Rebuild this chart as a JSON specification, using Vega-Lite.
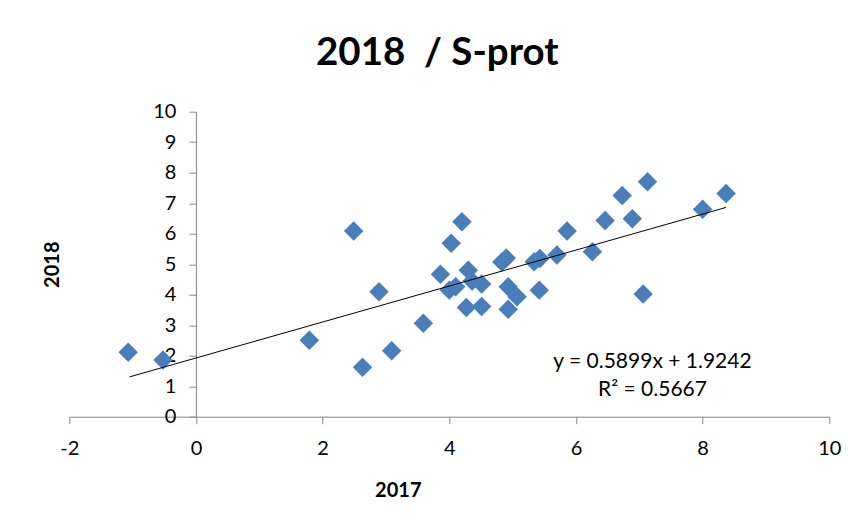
{
  "$schema": "https://vega.github.io/schema/vega-lite/v6.json",
  "autosize": "none",
  "width": 760,
  "height": 305,
  "padding": {"left": 69.3, "top": 111.7, "right": 25.7, "bottom": 98.3},
  "background": "white",
  "title": {
    "text": "2018\u00a0\u00a0/ S-prot",
    "font": "Lato",
    "fontSize": 38.5,
    "fontWeight": "bold",
    "color": "#000000",
    "anchor": "middle",
    "baseline": "alphabetic",
    "dx": -12,
    "offset": -2
  },
  "config": {
    "view": {"stroke": null},
    "axis": {
      "grid": false,
      "domainColor": "#868686",
      "tickColor": "#868686",
      "tickSize": 7,
      "labelFont": "Lato",
      "labelFontSize": 20,
      "labelColor": "#000000",
      "labelOverlap": false,
      "labelFlush": false,
      "labelExpr": "'' + datum.value",
      "titleFont": "Lato",
      "titleFontSize": 20,
      "titleFontWeight": "bold",
      "titleColor": "#000000"
    }
  },
  "encoding": {
    "x": {
      "field": "x2017", "type": "quantitative",
      "scale": {"domain": [-2, 10], "nice": false, "zero": false},
      "axis": {
        "title": "2017",
        "values": [-2, 0, 2, 4, 6, 8, 10],
        "labelPadding": 15,
        "labelOverlap": false,
        "labelFlush": false,
        "titleX": 328.5,
        "titleY": 79.3,
        "titleBaseline": "alphabetic",
        "titleAnchor": null
      }
    },
    "y": {
      "field": "y2018", "type": "quantitative",
      "scale": {"domain": [0, 10], "nice": false, "zero": false},
      "axis": {
        "title": "2018",
        "values": [0, 1, 2, 3, 4, 5, 6, 7, 8, 9, 10],
        "tickCount": 11,
        "labelOverlap": false,
        "labelFlush": false,
        "offset": -126.67,
        "labelPadding": 13,
        "titleX": -143,
        "titleY": 152.5,
        "titleAngle": -90,
        "titleAlign": "center",
        "titleBaseline": "middle",
        "titleAnchor": null
      }
    }
  },
  "layer": [
    {
      "data": {"values": [
        {"x2017": -1.07, "y2018": 2.11},
        {"x2017": -0.52, "y2018": 1.86},
        {"x2017": 1.79, "y2018": 2.51},
        {"x2017": 2.49, "y2018": 6.09},
        {"x2017": 2.63, "y2018": 1.62},
        {"x2017": 2.89, "y2018": 4.10},
        {"x2017": 3.09, "y2018": 2.16},
        {"x2017": 3.59, "y2018": 3.06},
        {"x2017": 3.86, "y2018": 4.67},
        {"x2017": 4.00, "y2018": 4.15},
        {"x2017": 4.03, "y2018": 5.69},
        {"x2017": 4.10, "y2018": 4.26},
        {"x2017": 4.20, "y2018": 6.39},
        {"x2017": 4.27, "y2018": 3.58},
        {"x2017": 4.30, "y2018": 4.80},
        {"x2017": 4.36, "y2018": 4.45},
        {"x2017": 4.51, "y2018": 4.35},
        {"x2017": 4.51, "y2018": 3.61},
        {"x2017": 4.83, "y2018": 5.07},
        {"x2017": 4.90, "y2018": 5.20},
        {"x2017": 4.93, "y2018": 4.26},
        {"x2017": 5.07, "y2018": 3.93},
        {"x2017": 4.93, "y2018": 3.52},
        {"x2017": 5.42, "y2018": 4.15},
        {"x2017": 5.34, "y2018": 5.08},
        {"x2017": 5.43, "y2018": 5.19},
        {"x2017": 5.70, "y2018": 5.30},
        {"x2017": 5.86, "y2018": 6.09},
        {"x2017": 6.26, "y2018": 5.41},
        {"x2017": 6.46, "y2018": 6.43},
        {"x2017": 6.73, "y2018": 7.25},
        {"x2017": 6.89, "y2018": 6.49},
        {"x2017": 7.06, "y2018": 4.02},
        {"x2017": 7.13, "y2018": 7.70},
        {"x2017": 8.00, "y2018": 6.80},
        {"x2017": 8.37, "y2018": 7.32}
      ]},
      "mark": {"type": "point", "shape": "diamond", "filled": true, "size": 380, "color": "#4A7EBB", "opacity": 1}
    },
    {
      "data": {"values": [
        {"x2017": -1.05, "y2018": 1.305},
        {"x2017": 8.37, "y2018": 6.862}
      ]},
      "mark": {"type": "line", "color": "#000000", "strokeWidth": 1}
    },
    {
      "data": {"values": [
        {"label": "y = 0.5899x + 1.9242", "x2017": 7.208, "y2018": 1.587},
        {"label": "R² = 0.5667", "x2017": 7.208, "y2018": 0.679}
      ]},
      "mark": {"type": "text", "font": "Lato", "fontSize": 21, "color": "#000000", "align": "center", "baseline": "alphabetic"},
      "encoding": {
        "text": {"field": "label"}
      }
    }
  ]
}
